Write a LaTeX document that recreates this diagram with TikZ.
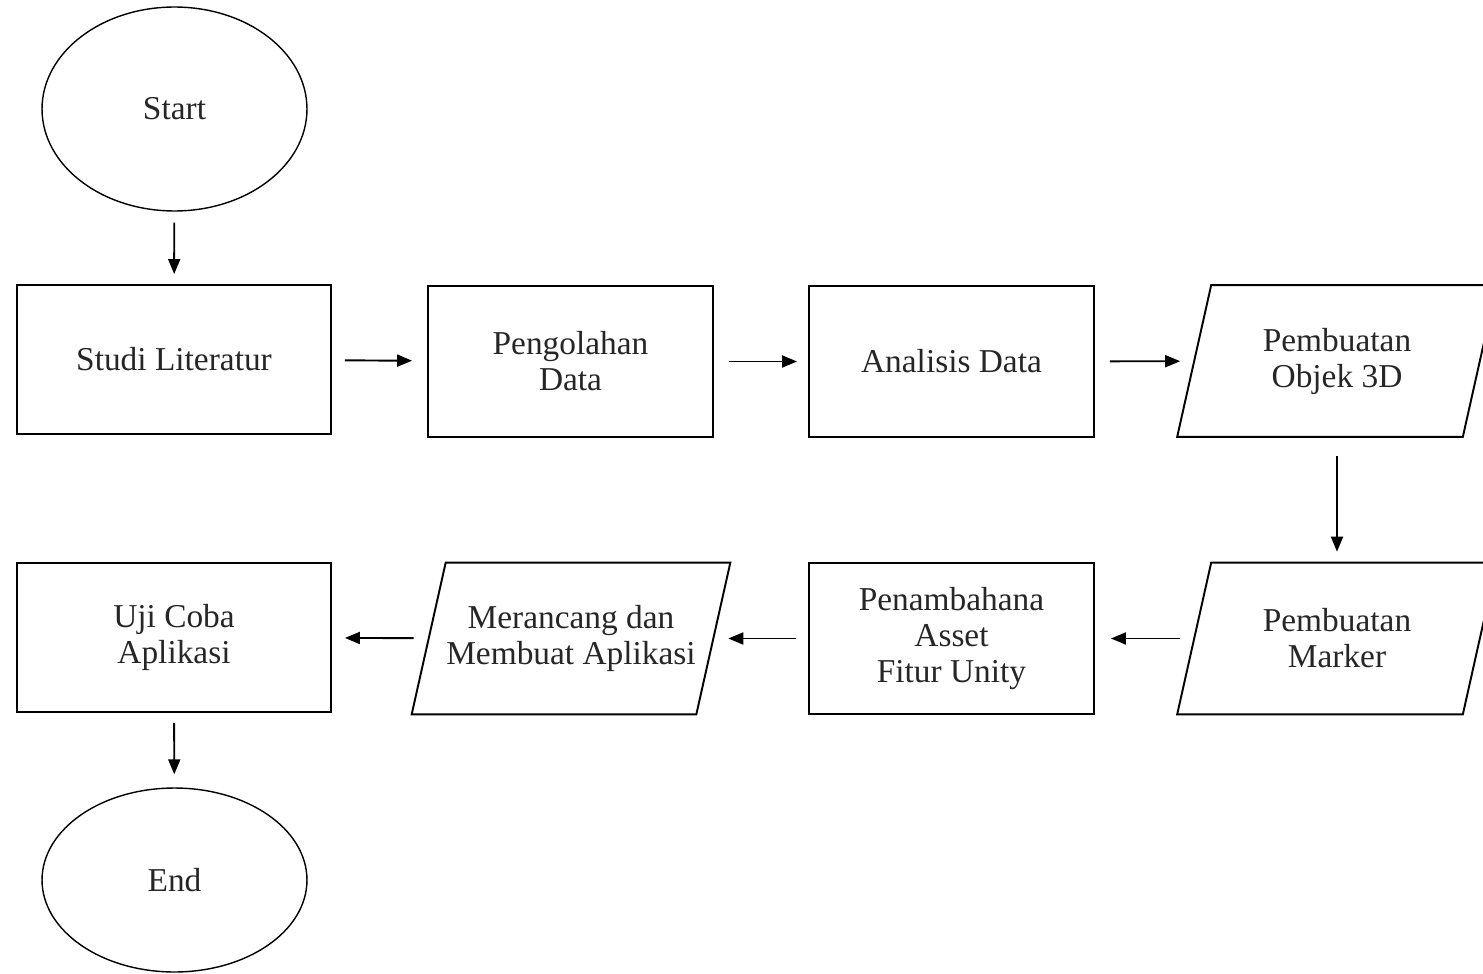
\documentclass[tikz,border=0pt]{standalone}
\usepackage{fontspec}
\setmainfont{Liberation Serif}
\usetikzlibrary{arrows.meta,shapes.geometric,positioning}

\tikzset{
  flow/.style={font=\fontsize{19}{20.5}\selectfont, text=black!85, align=center},
  term/.style={flow, ellipse, draw, line width=0.8pt, minimum width=5.3cm},
  proc/.style={flow, rectangle, draw, line width=1.1pt, minimum width=5.7cm, minimum height=3.02cm},
  io/.style={flow, rectangle, minimum width=5.7cm, minimum height=3.02cm},
  go/.style={-{Triangle[length=0.3cm,width=0.24cm]}, line width=1.1pt}
}

\begin{document}
\begin{tikzpicture}[x=0.02cm, y=-0.02cm]
			\useasboundingbox (0,0) rectangle (1483,973);
			\clip (0,0) rectangle (1483,973);

			\node[term, minimum height=4.08cm] (start) at (174.5, 109) {Start};
			\node[proc, minimum width=6.28cm, minimum height=2.98cm] (studi) at (174, 359.5) {Studi Literatur};
			\node[proc] (olah) at (570.5, 361.5) {Pengolahan\\Data};
			\node[proc] (analisis) at (951.5, 361.5) {Analisis Data};
			\node[io] (objek) at (1337, 361) {Pembuatan\\Objek 3D};
			\node[io] (marker) at (1337, 638.5) {Pembuatan\\Marker};
			\node[proc] (tambah) at (951.5, 638.5) {Penambahana\\Asset\\Fitur Unity};
			\node[io, minimum width=5.68cm] (rancang) at (571, 638.5) {Merancang dan\\Membuat Aplikasi};
			\node[proc, minimum width=6.28cm, minimum height=2.98cm] (uji) at (174, 637.5) {Uji Coba\\Aplikasi};
			\node[term, minimum height=3.68cm] (end) at (174.5, 880) {End};

			% parallelogram borders
			\foreach \n in {objek, marker, rancang}
				\draw[line width=1.1pt] ([xshift=0.34cm]\n.north west) -- ([xshift=0.34cm]\n.north east)
					-- ([xshift=-0.34cm]\n.south east) -- ([xshift=-0.34cm]\n.south west) -- cycle;

			\draw [go, shorten <=0.22cm, shorten >=0.2cm] (start) to (studi);
			\draw [go, shorten <=0.26cm, shorten >=0.3cm] (studi) to (olah);
			\draw [go, shorten <=0.3cm, shorten >=0.22cm] (olah) to (analisis);
			\draw [go, shorten <=0.3cm, shorten >=0.28cm] (analisis) to (objek);
			\draw [go, shorten <=0.38cm, shorten >=0.22cm] (objek) to (marker);
			\draw [go, shorten <=0.28cm, shorten >=0.32cm] (marker) to (tambah);
			\draw [go, shorten <=0.24cm, shorten >=0.3cm] (tambah) to (rancang);
			\draw [go, shorten <=0.3cm, shorten >=0.26cm] (rancang) to (uji);
			\draw [go, shorten <=0.2cm, shorten >=0.26cm] (uji) to (end);
		\end{tikzpicture}
\end{document}
